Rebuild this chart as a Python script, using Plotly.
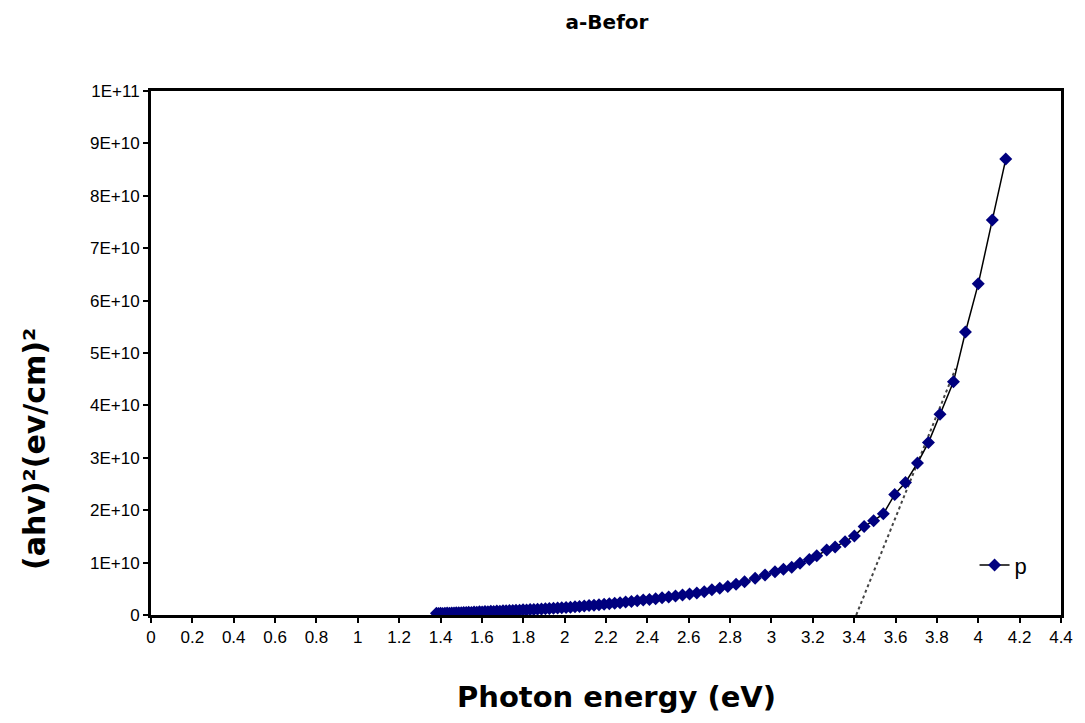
import plotly.graph_objects as go

# Photon energy (eV) and (ahv)^2 values
energy = [1.380, 1.390, 1.400, 1.410, 1.421, 1.432, 1.443, 1.454, 1.465, 1.476,
          1.488, 1.500, 1.512, 1.524, 1.536, 1.549, 1.562, 1.575, 1.588, 1.601,
          1.615, 1.629, 1.643, 1.657, 1.672, 1.687, 1.702, 1.717, 1.733, 1.749,
          1.765, 1.782, 1.799, 1.816, 1.833, 1.851, 1.869, 1.888, 1.907, 1.926,
          1.946, 1.966, 1.986, 2.007, 2.028, 2.050, 2.072, 2.095, 2.118, 2.142,
          2.166, 2.191, 2.216, 2.242, 2.268, 2.295, 2.323, 2.351, 2.380, 2.410,
          2.440, 2.471, 2.503, 2.536, 2.570, 2.604, 2.639, 2.675, 2.712, 2.750,
          2.789, 2.829, 2.870, 2.921, 2.969, 3.017, 3.058, 3.098, 3.138, 3.183,
          3.219, 3.267, 3.308, 3.356, 3.401, 3.448, 3.494, 3.541, 3.596, 3.648,
          3.706, 3.759, 3.815, 3.880, 3.938, 4.000, 4.068, 4.133]

absorb = [0.32e9, 0.28e9, 0.35e9, 0.30e9, 0.33e9, 0.38e9, 0.34e9, 0.40e9, 0.37e9, 0.42e9,
          0.45e9, 0.41e9, 0.48e9, 0.46e9, 0.52e9, 0.50e9, 0.56e9, 0.54e9, 0.60e9, 0.58e9,
          0.65e9, 0.62e9, 0.70e9, 0.68e9, 0.75e9, 0.73e9, 0.81e9, 0.79e9, 0.86e9, 0.84e9,
          0.92e9, 0.90e9, 0.98e9, 0.97e9, 1.05e9, 1.04e9, 1.12e9, 1.13e9, 1.20e9, 1.22e9,
          1.30e9, 1.32e9, 1.40e9, 1.45e9, 1.50e9, 1.58e9, 1.63e9, 1.72e9, 1.80e9, 1.88e9,
          1.96e9, 2.06e9, 2.14e9, 2.25e9, 2.35e9, 2.46e9, 2.58e9, 2.70e9, 2.84e9, 2.98e9,
          3.12e9, 3.28e9, 3.45e9, 3.62e9, 3.80e9, 4.00e9, 4.20e9, 4.42e9, 4.80e9, 5.10e9,
          5.45e9, 5.85e9, 6.35e9, 7.00e9, 7.63e9, 8.26e9, 8.72e9, 9.10e9, 9.86e9, 10.6e9,
          11.3e9, 12.4e9, 13.0e9, 14.0e9, 15.1e9, 16.9e9, 18.0e9, 19.3e9, 23.0e9, 25.3e9,
          29.0e9, 32.9e9, 38.3e9, 44.5e9, 54.0e9, 63.2e9, 75.4e9, 87.0e9]

# Tangent (band-gap extrapolation) line
tangent_x = [3.41, 3.89]
tangent_y = [0, 4.7e10]

x_ticks = [round(0.2 * i, 1) for i in range(23)]
x_tick_text = ["0", "0.2", "0.4", "0.6", "0.8", "1", "1.2", "1.4", "1.6", "1.8", "2",
               "2.2", "2.4", "2.6", "2.8", "3", "3.2", "3.4", "3.6", "3.8", "4", "4.2", "4.4"]
y_ticks = [0, 1e10, 2e10, 3e10, 4e10, 5e10, 6e10, 7e10, 8e10, 9e10, 1e11]
y_tick_text = ["0", "1E+10", "2E+10", "3E+10", "4E+10", "5E+10", "6E+10", "7E+10",
               "8E+10", "9E+10", "1E+11"]

fig = go.Figure()
fig.add_trace(go.Scatter(
    x=tangent_x, y=tangent_y, mode="lines",
    line=dict(color="#444444", width=2, dash="dot"),
    showlegend=False, hoverinfo="skip"))
fig.add_trace(go.Scatter(
    x=energy, y=absorb, mode="lines+markers", name="p",
    line=dict(color="black", width=1.5),
    marker=dict(symbol="diamond", size=10, color="#00007f",
                line=dict(width=0))))

axis_font = dict(family="Liberation Sans, Arial", size=17, color="black")
title_font = dict(family="DejaVu Sans", size=30, color="black")

W, H = 1085, 723
fig.update_layout(
    width=W, height=H,
    margin=dict(l=151, r=24, t=91, b=108),
    paper_bgcolor="white", plot_bgcolor="white",
    title=dict(text="<b>a-Befor</b>", x=607 / W, xanchor="center",
               y=1 - 22 / H, yanchor="middle",
               font=dict(family="DejaVu Sans", size=20, color="black")),
    xaxis=dict(range=[0, 4.4], tickvals=x_ticks, ticktext=x_tick_text,
               showgrid=False, zeroline=False, showline=True, linecolor="black",
               linewidth=3, mirror=True, ticks="outside", ticklen=5, tickwidth=1.5,
               tickcolor="black", tickfont=axis_font),
    yaxis=dict(range=[0, 1e11], tickvals=y_ticks, ticktext=y_tick_text,
               showgrid=False, zeroline=False, showline=True, linecolor="black",
               linewidth=3, mirror=True, ticks="outside", ticklen=5, tickwidth=1.5,
               tickcolor="black", tickfont=axis_font),
    legend=dict(x=0.905, y=0.095, xanchor="left", yanchor="middle",
                bgcolor="rgba(0,0,0,0)", font=dict(family="Liberation Sans, Arial",
                                                   size=22, color="black"),
                itemwidth=30),
    showlegend=True,
    annotations=[
        dict(text="<b>Photon energy (eV)</b>", xref="paper", yref="paper",
             x=(616 - 151) / (1061 - 151), y=-(697 - 615) / (615 - 91),
             xanchor="center", yanchor="middle", showarrow=False,
             font=dict(family="DejaVu Sans", size=29, color="black")),
        dict(text="<b>(ahv)²(ev/cm)²</b>", xref="paper", yref="paper",
             x=-(151 - 34) / (1061 - 151), y=(615 - 449) / (615 - 91),
             xanchor="center", yanchor="middle", showarrow=False, textangle=-90,
             font=title_font),
    ],
)

fig.write_html("out.html")
